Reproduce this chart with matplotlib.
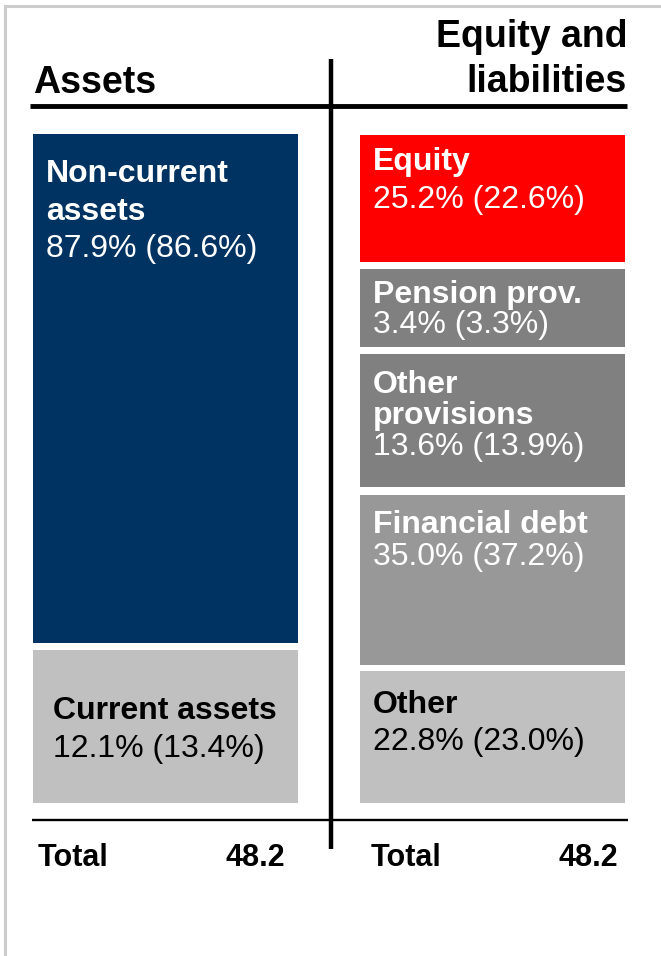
import matplotlib
matplotlib.use("Agg")
from matplotlib import pyplot as plt

plt.rcParams['font.family'] = ['Liberation Sans', 'DejaVu Sans']

# data: share of balance sheet total, current year and (previous year)
assets_labels = ['Non-current\nassets', 'Current assets']
assets_now = [87.9, 12.1]
assets_prev = [86.6, 13.4]
liab_labels = ['Equity', 'Pension prov.', 'Other\nprovisions', 'Financial debt', 'Other']
liab_now = [25.2, 3.4, 13.6, 35.0, 22.8]
liab_prev = [22.6, 3.3, 13.9, 37.2, 23.0]
total_assets = 48.2
total_liab = 48.2

# layout in pixel units (boxes are not drawn to scale in the original)
assets_boxes = [(134, 643), (650, 803)]
liab_boxes = [(135, 262), (269, 347), (354, 487), (495, 665), (671, 803)]
assets_colors = ['#003262', '#c0c0c0']
liab_colors = ['#ff0000', '#808080', '#808080', '#989898', '#c0c0c0']
assets_text = [('white', 46, 182, 37.5), ('black', 53, 719, 38)]
liab_text = [('white', 373, 170, 38), ('white', 373, 303, 30), ('white', 373, 393, 31),
             ('white', 373, 533, 32), ('black', 373, 713, 37)]

W, H = 661, 956
fig = plt.figure(figsize=(W / 100, H / 100), dpi=100)
ax = fig.add_axes([0, 0, 1, 1])
ax.set_xlim(0, W)
ax.set_ylim(H, 0)
ax.axis('off')

# light frame left and top
ax.plot([5, 5], [956, 6], color='#cccccc', lw=2.2)
ax.plot([5, 661], [6, 6], color='#cccccc', lw=2.2)

def draw_column(x0, x1, boxes, colors, labels, now, prev, text):
    tops = [b[0] for b in boxes]
    heights = [b[1] - b[0] for b in boxes]
    ax.bar([x0] * len(boxes), heights, bottom=tops, width=x1 - x0,
           align='edge', color=colors, linewidth=0)
    for lab, n, p, (col, tx, ty, dy) in zip(labels, now, prev, text):
        lines = lab.split('\n')
        for i, ln in enumerate(lines):
            ax.text(tx, ty + i * dy, ln, color=col, fontsize=23,
                    fontweight='bold', va='baseline', ha='left')
        ax.text(tx, ty + len(lines) * dy, f'{n:.1f}% ({p:.1f}%)', color=col,
                fontsize=23, va='baseline', ha='left')

draw_column(33, 298, assets_boxes, assets_colors, assets_labels,
            assets_now, assets_prev, assets_text)
draw_column(360, 625, liab_boxes, liab_colors, liab_labels,
            liab_now, liab_prev, liab_text)

# headings
ax.text(33, 93, 'Assets', fontsize=27, fontweight='bold', va='baseline', ha='left')
ax.text(627, 47, 'Equity and', fontsize=27, fontweight='bold', va='baseline', ha='right')
ax.text(627, 92, 'liabilities', fontsize=27, fontweight='bold', va='baseline', ha='right')

# rules
ax.plot([30, 627], [106, 106], color='black', lw=3.5, solid_capstyle='butt')
ax.plot([331, 331], [59, 849], color='black', lw=3.2, solid_capstyle='butt')
ax.plot([32, 628], [819.5, 819.5], color='black', lw=1.7, solid_capstyle='butt')

# totals
ax.text(38, 866, 'Total', fontsize=22, fontweight='bold', va='baseline', ha='left')
ax.text(285, 866, f'{total_assets:.1f}', fontsize=22, fontweight='bold', va='baseline', ha='right')
ax.text(371, 866, 'Total', fontsize=22, fontweight='bold', va='baseline', ha='left')
ax.text(618, 866, f'{total_liab:.1f}', fontsize=22, fontweight='bold', va='baseline', ha='right')

fig.savefig('out.png', dpi=100, facecolor='white')
